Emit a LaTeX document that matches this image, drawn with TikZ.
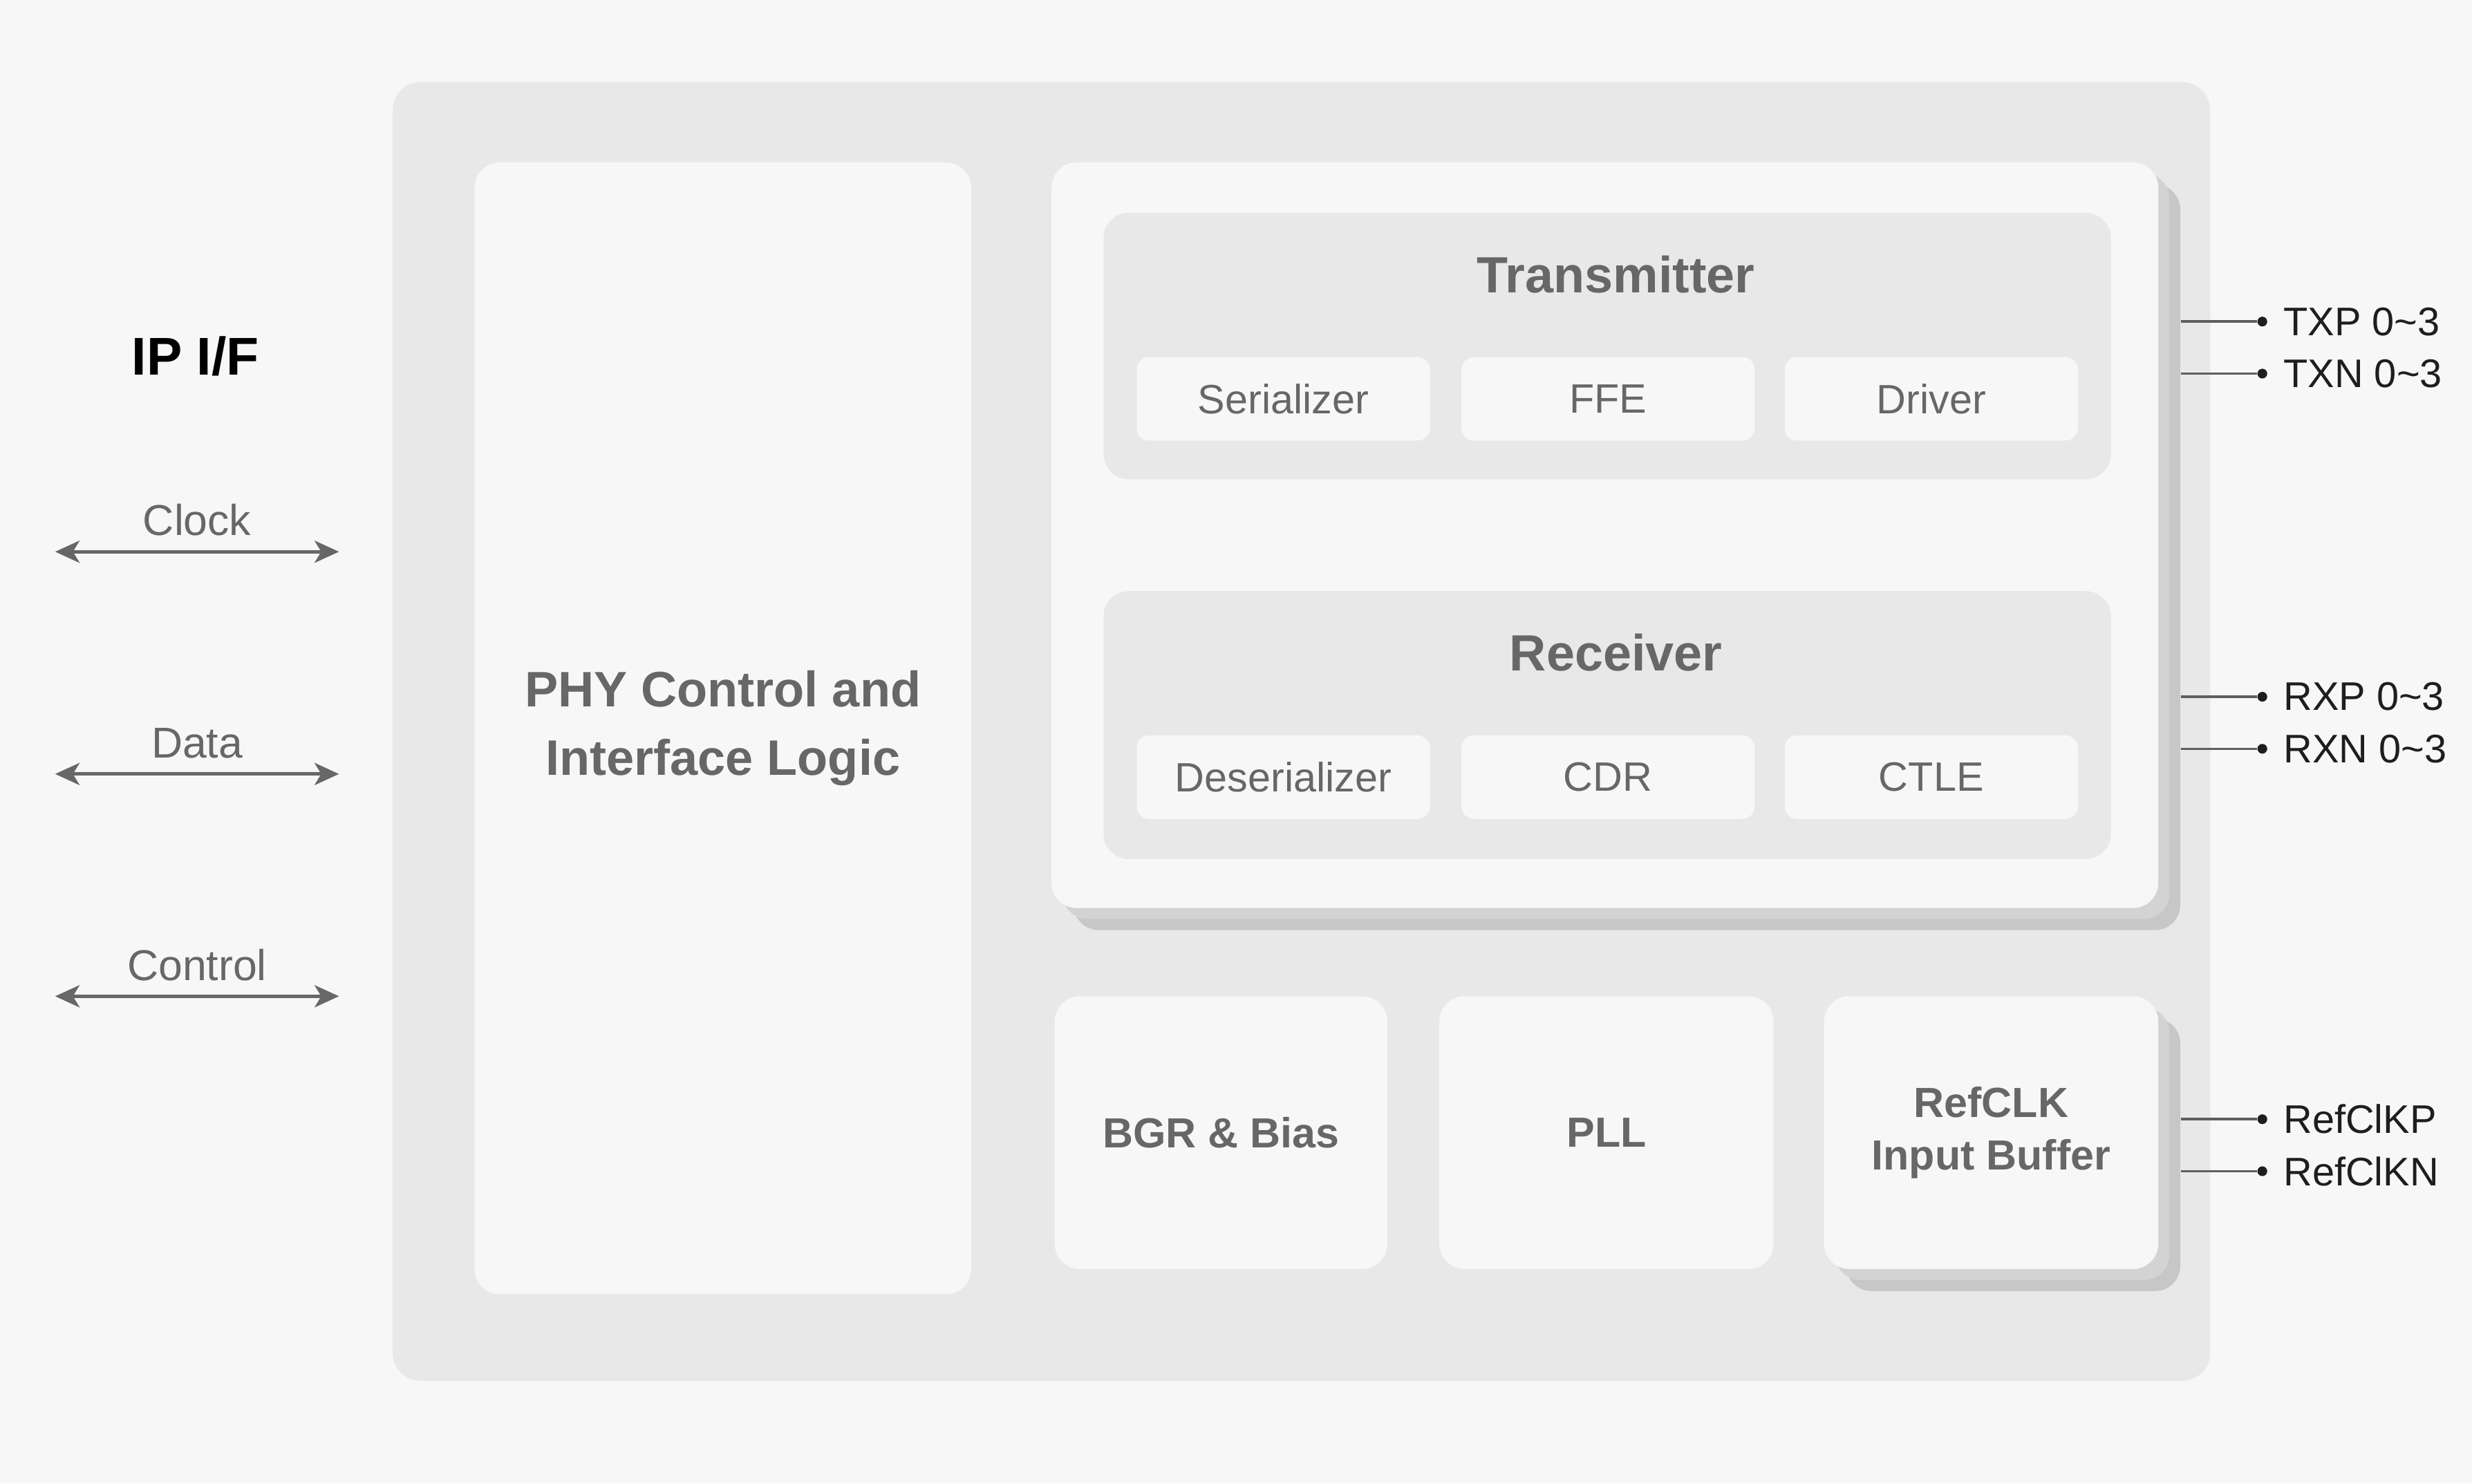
\documentclass[tikz,border=0pt]{standalone}
\usepackage{fontspec}
\setmainfont{Liberation Sans}
\usepackage{tikz}
\usetikzlibrary{positioning,arrows.meta,fit}
\definecolor{pagebg}{HTML}{F7F7F7}
\definecolor{panelgray}{HTML}{E8E8E8}
\definecolor{shadeone}{HTML}{D3D3D3}
\definecolor{shadetwo}{HTML}{C7C7C7}
\definecolor{txtgray}{HTML}{676767}
\definecolor{pinblack}{HTML}{1E1E1E}
\definecolor{linegray}{HTML}{5E5E5E}
\tikzset{
  panel/.style  = {fill=panelgray, rounded corners=0.45cm, inner sep=0pt},
  wbox/.style   = {fill=pagebg, rounded corners=0.4cm, inner sep=0pt},
  blocktxt/.style = {align=center, text=txtgray, inner sep=0pt,
                   font=\fontsize{19pt}{23.5pt}\selectfont\bfseries},
  secbox/.style = {fill=panelgray, rounded corners=0.4cm, inner sep=0pt},
  sectitle/.style = {text=txtgray, font=\fontsize{23pt}{27pt}\selectfont\bfseries},
  cell/.style   = {fill=pagebg, rounded corners=0.2cm, minimum width=4.65cm, minimum height=1.325cm,
                   inner sep=0pt, text=txtgray, font=\fontsize{18.5pt}{22pt}\selectfont},
  layerA/.style = {fill=shadeone, rounded corners=0.4cm, inner sep=0pt},
  layerB/.style = {fill=shadetwo, rounded corners=0.4cm, inner sep=0pt},
  pinline/.style = {draw=linegray, line width=1.1pt},
  pindot/.style = {circle, fill=pinblack, inner sep=0pt, minimum size=4.4pt},
  pinlbl/.style = {text=pinblack, inner sep=0pt, font=\fontsize{18pt}{22pt}\selectfont},
  iflow/.style  = {{Stealth[length=11pt,width=10pt,inset=3pt]}-{Stealth[length=11pt,width=10pt,inset=3pt]},
                   draw=txtgray, line width=1.5pt},
  iflbl/.style  = {text=txtgray, font=\fontsize{19.5pt}{23pt}\selectfont},
}

\begin{document}
\begin{tikzpicture}[x=0.025cm, y=-0.025cm]
  % page and outer die
  \fill[pagebg] (0,0) rectangle (1568,941);
  \useasboundingbox (0,0) rectangle (1568,941);
  \node[panel, fit={(249,52) (1402,876)}] (die) {};

  % PHY control
  \node[wbox, fit={(301,103) (616,821)}] (phy) {};
  \node[blocktxt, font=\fontsize{22.5pt}{31pt}\selectfont\bfseries] (phytxt) at (phy.center)
    {PHY Control and\\Interface Logic};

  % TX/RX card stack
  \node[layerB, fit={(681,117) (1383,590)}] (trx2) {};
  \node[layerA, fit={(674,110) (1376,583)}] (trx1) {};
  \node[wbox, fit={(667,103) (1369,576)}] (trx) {};

  \node[secbox, fit={(700,135) (1339,304)}] (tx) {};
  \node[sectitle] (txt) at (1025,174) {Transmitter};
  \node[cell] (ser) at (814,253) {Serializer};
  \node[cell] (ffe) at (1020,253) {FFE};
  \node[cell] (drv) at (1225,253) {Driver};

  \node[secbox, fit={(700,375) (1339,545)}] (rx) {};
  \node[sectitle] (rxt) at (1025,414) {Receiver};
  \node[cell] (des) at (814,493) {Deserializer};
  \node[cell] (cdr) at (1020,493) {CDR};
  \node[cell] (ctle) at (1225,493) {CTLE};

  % bottom row
  \node[wbox, fit={(669,632) (880,805)}] (bgr) {};
  \node[blocktxt] (bgrtxt) at (bgr.center) {BGR \& Bias};
  \node[wbox, fit={(913,632) (1125,805)}] (pll) {};
  \node[blocktxt] (plltxt) at (pll.center) {PLL};
  \node[layerB, fit={(1171,646) (1383,819)}] (ref2) {};
  \node[layerA, fit={(1164,639) (1376,812)}] (ref1) {};
  \node[wbox, fit={(1157,632) (1369,805)}] (ref) {};
  \node[blocktxt] (reftxt) at (ref.center) {RefCLK\\Input Buffer};

  % pins
  \node[pindot] (txpd) at (1435,204) {};
  \node[pindot] (txnd) at (1435,237) {};
  \node[pindot] (rxpd) at (1435,442) {};
  \node[pindot] (rxnd) at (1435,475) {};
  \node[pindot] (rcpd) at (1435,710) {};
  \node[pindot] (rcnd) at (1435,743) {};
  \node[pinlbl, right=7pt of txpd] (txp) {TXP 0\textasciitilde3};
  \node[pinlbl, right=7pt of txnd] (txn) {TXN 0\textasciitilde3};
  \node[pinlbl, right=7pt of rxpd] (rxp) {RXP 0\textasciitilde3};
  \node[pinlbl, right=7pt of rxnd] (rxn) {RXN 0\textasciitilde3};
  \node[pinlbl, right=7pt of rcpd] (rcp) {RefClKP};
  \node[pinlbl, right=7pt of rcnd] (rcn) {RefClKN};
  \draw[pinline] (trx2.east |- txpd) -- (txpd);
  \draw[pinline] (trx2.east |- txnd) -- (txnd);
  \draw[pinline] (trx2.east |- rxpd) -- (rxpd);
  \draw[pinline] (trx2.east |- rxnd) -- (rxnd);
  \draw[pinline] (ref2.east |- rcpd) -- (rcpd);
  \draw[pinline] (ref2.east |- rcnd) -- (rcnd);

  % IP interface
  \node[font=\fontsize{24pt}{28pt}\selectfont\bfseries, text=black] (ipif) at (124,226) {IP I/F};
  \coordinate (clkL) at (35,350);  \coordinate (clkR) at (215,350);
  \coordinate (datL) at (35,491);  \coordinate (datR) at (215,491);
  \coordinate (ctlL) at (35,632);  \coordinate (ctlR) at (215,632);
  \draw[iflow] (clkL) -- node[iflbl, above=3pt] (clk) {Clock} (clkR);
  \draw[iflow] (datL) -- node[iflbl, above=3pt] (dat) {Data} (datR);
  \draw[iflow] (ctlL) -- node[iflbl, above=3pt] (ctl) {Control} (ctlR);
\end{tikzpicture}
\end{document}
